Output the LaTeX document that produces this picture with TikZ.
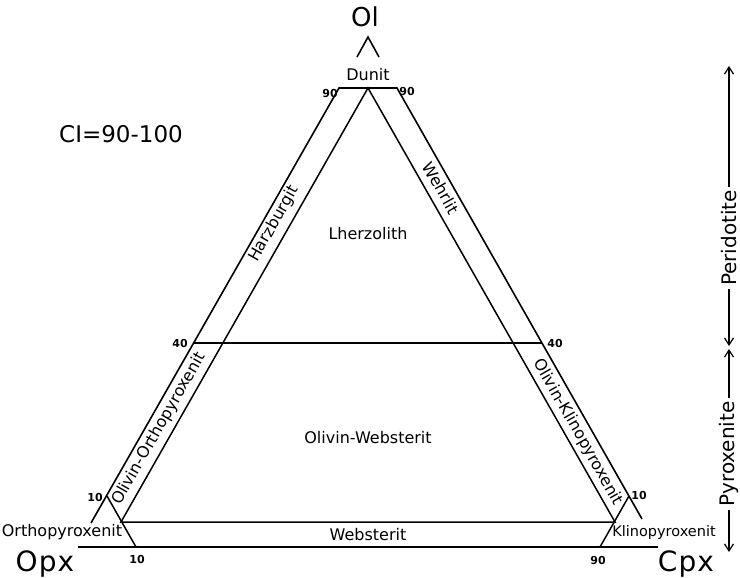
\documentclass[tikz,border=0pt]{standalone}
\usepackage{fontspec}
\setmainfont{DejaVu Sans}
\usetikzlibrary{arrows.meta}

\begin{document}
\begin{tikzpicture}[x=1pt, y=-1pt,
    rand/.style={line width=1.6pt},
    grenze/.style={line width=1.5pt},
    feld/.style={font=\fontsize{16}{16}\selectfont, inner sep=1pt},
    zahl/.style={font=\fontsize{11}{11}\selectfont\bfseries, inner sep=1pt},
    ecke/.style={font=\fontsize{28}{28}\selectfont\addfontfeature{LetterSpace=4},
              inner sep=0pt},
    bereich/.style={font=\fontsize{20}{20}\selectfont, rotate=90,
              inner sep=3pt},
    pfeil/.style={-{Straight Barb[length=7pt, width=9pt]}, line width=1.2pt}
]
    \useasboundingbox (0,0) rectangle (740,578);

    % Eckpunkte und Feldgrenzen
    \coordinate (ol)   at (368,37);
    \coordinate (opx)  at (78,547);
    \coordinate (cpx)  at (658,547);
    \coordinate (l90)  at (339,88);
    \coordinate (r90)  at (397,88);
    \coordinate (m90)  at (368,88);
    \coordinate (l40)  at (194,343);
    \coordinate (r40)  at (542,343);
    \coordinate (l5)   at (121,522);
    \coordinate (r5)   at (615,522);
    \coordinate (b10)  at (136,547);
    \coordinate (b90)  at (600,547);
    \coordinate (s10l) at (107,496);
    \coordinate (s10r) at (629,496);
    \coordinate (tl)   at (357,57);
    \coordinate (tr)   at (379,57);
    \coordinate (lend) at (91,523);
    \coordinate (rend) at (642,519);

    \draw[rand] (tl) -- (ol) -- (tr);
    \draw[rand] (lend) -- (l90) -- (r90) -- (rend);
    \draw[rand] (opx) -- (cpx);
    \draw[grenze] (l5) -- (m90) -- (r5) -- cycle;
    \draw[grenze] (l40) -- (r40);
    \draw[grenze] (s10l) -- (b10);
    \draw[grenze] (s10r) -- (b90);

    \node[font=\fontsize{26}{26}\selectfont, inner sep=0pt] (olname) at (365,17) {Ol};
    \node[ecke] (opxname) at (45,564)  {Opx};
    \node[ecke] (cpxname) at (686,564) {Cpx};
    \node[font=\fontsize{23}{23}\selectfont] (ci) at (121,134) {CI=90-100};

    \node[feld] (dunit)   at (368,75)  {Dunit};
    \node[feld] (lherz)   at (368,234) {Lherzolith};
    \node[feld] (owebst)  at (368,438) {Olivin-Websterit};
    \node[feld] (webst)   at (368,535) {Websterit};
    \node[feld] (ortho)   at (62,532)  {Orthopyroxenit};
    \node[feld, font=\fontsize{14.5}{14.5}\selectfont] (klino) at (664,532) {Klinopyroxenit};
    \node[feld, rotate=60.4]  (harz)    at (274,224) {Harzburgit};
    \node[feld, rotate=-60.4] (wehr)    at (441,188) {Wehrlit};
    \node[feld, rotate=60.4]  (olortho) at (159,429) {Olivin-Orthopyroxenit};
    \node[feld, rotate=-60.4] (olklino) at (578,432) {Olivin-Klinopyroxenit};

    \node[zahl] (z90l) at (330,93)  {90};
    \node[zahl] (z90r) at (407,91)  {90};
    \node[zahl] (z40l) at (180,343) {40};
    \node[zahl] (z40r) at (555,343) {40};
    \node[zahl] (z10l) at (95,497)  {10};
    \node[zahl] (z10r) at (639,495) {10};
    \node[zahl] (z10b) at (137,559) {10};
    \node[zahl] (z90b) at (598,560) {90};

    % Gesteinsgruppen rechts
    \node[bereich] (peri) at (729,238) {Peridotite};
    \node[bereich] (pyro) at (729,454) {Pyroxenite};
    \coordinate (peritop) at (729,66);
    \coordinate (peribot) at (729,346);
    \coordinate (pyrotop) at (729,349);
    \coordinate (pyrobot) at (729,552);
    \draw[pfeil] (peri.east) -- (peritop);
    \draw[pfeil] (peri.west) -- (peribot);
    \draw[pfeil] (pyro.east) -- (pyrotop);
    \draw[pfeil] (pyro.west) -- (pyrobot);
\end{tikzpicture}
\end{document}
